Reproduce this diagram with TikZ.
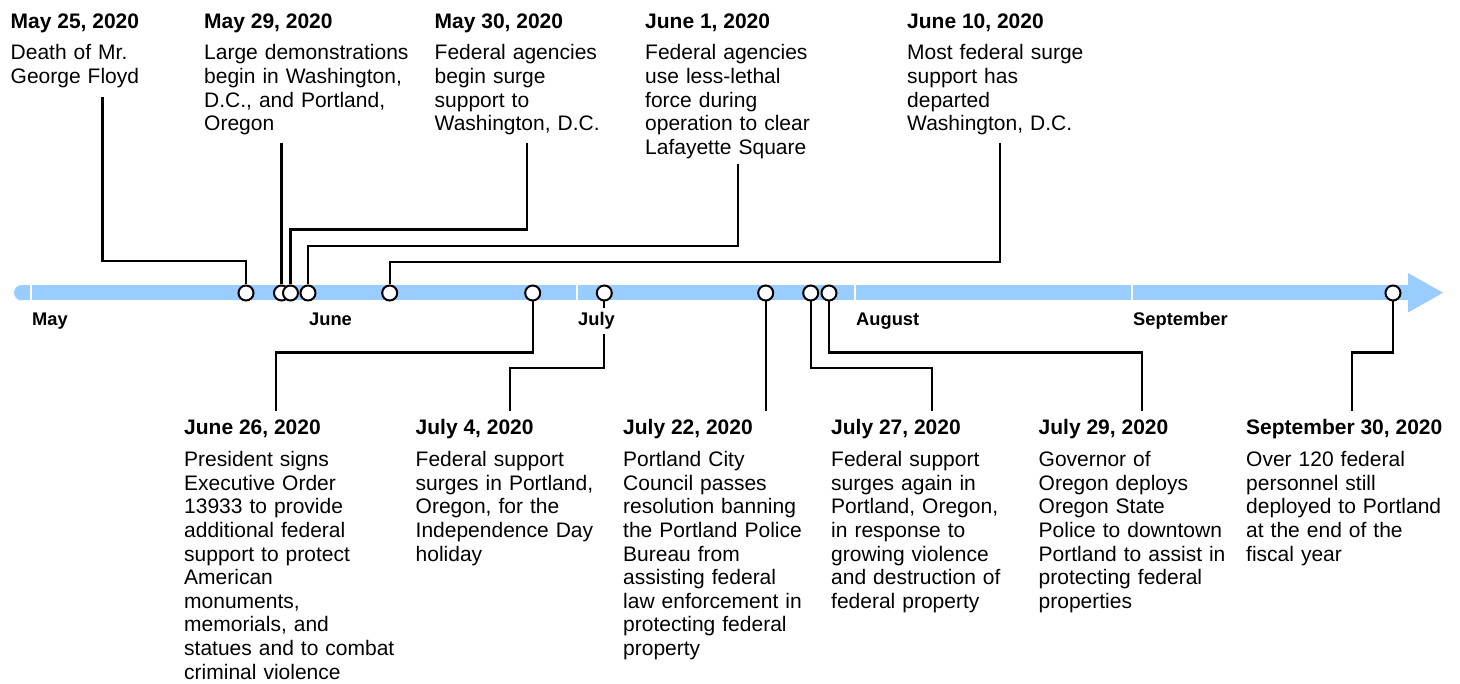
\documentclass[tikz,border=0pt]{standalone}
\usepackage{fontspec}
\setmainfont{Liberation Sans}
\definecolor{barblue}{RGB}{153,204,255}
\tikzset{
  conn/.style={line width=2.2pt},
  evt/.style={circle, draw, line width=2pt, fill=white, minimum size=15pt, inner sep=0pt},
  ttl/.style={anchor=base west, inner sep=0pt, font=\bfseries\fontsize{21}{24}\selectfont},
  body/.style={anchor=base west, inner sep=0pt, align=left, text width=260pt, font=\fontsize{21}{23.6}\selectfont},
  mon/.style={anchor=base west, inner sep=0pt, font=\bfseries\fontsize{18.3}{20}\selectfont},
  sep/.style={white, line width=2pt},
}
\begin{document}
\begin{tikzpicture}[x=1pt,y=-1pt]
\useasboundingbox (0,0) rectangle (1460,684);
% timeline bar
\fill[barblue] (21.75,285) rectangle (1408,300.5);
\fill[barblue] (21.75,292.75) circle (7.75pt);
\fill[barblue] (1408,273) -- (1443,292.75) -- (1408,312.5) -- cycle;
% month separators
\draw[sep] (31,284) -- (31,301.5);
\draw[sep] (305,284) -- (305,301.5);
\draw[sep] (577,284) -- (577,301.5);
\draw[sep] (855,284) -- (855,301.5);
\draw[sep] (1132,284) -- (1132,301.5);
% connector free ends
\coordinate (c1) at (102.5,97);
\coordinate (c2) at (281.5,143);
\coordinate (c3) at (527.3,143.3);
\coordinate (c4) at (737.7,164.3);
\coordinate (c5) at (1000,142.7);
\coordinate (c6) at (276,411);
\coordinate (c7) at (510,411);
\coordinate (c8) at (765.7,411);
\coordinate (c9) at (932,411);
\coordinate (c10) at (1141.7,411);
\coordinate (c11) at (1352,411);
% event markers
\node[evt] (e1) at (246,293) {};
\node[evt] (e2) at (281.5,293) {};
\node[evt] (e3) at (290.5,293) {};
\node[evt] (e4) at (308,293) {};
\node[evt] (e5) at (389.7,293) {};
\node[evt] (e6) at (532.7,293) {};
\node[evt] (e7) at (604.3,293) {};
\node[evt] (e8) at (765.7,293) {};
\node[evt] (e9) at (810.7,293) {};
\node[evt] (e10) at (829,293) {};
\node[evt] (e11) at (1393,293) {};
% connectors
\draw[conn] (c1) |- (e1 |- 0,261) -- (e1);
\draw[conn] (c2) -- (e2);
\draw[conn] (c3) |- (e3 |- 0,229.5) -- (e3);
\draw[conn] (c4) |- (e4 |- 0,246) -- (e4);
\draw[conn] (c5) |- (e5 |- 0,262) -- (e5);
\draw[conn] (e6) |- (c6 |- 0,352.5) -- (c6);
\draw[conn] (e7) |- (c7 |- 0,368.3) -- (c7);
\draw[conn] (e8) -- (c8);
\draw[conn] (e9) |- (c9 |- 0,368.3) -- (c9);
\draw[conn] (e10) |- (c10 |- 0,352.5) -- (c10);
\draw[conn] (e11) |- (c11 |- 0,352.5) -- (c11);
% month labels
\node[mon] (mmay) at (32,326) {May};
\node[mon] (mjune) at (309,326) {June};
\node[mon, fill=white, inner ysep=5pt, text height=13pt, text depth=3pt] (mjuly) at (578,326) {July};
\node[mon] (maug) at (856,326) {August};
\node[mon] (msep) at (1133,326) {September};
% top events
\node[ttl] (t1) at (10.5,28.5) {May 25, 2020};
\node[body] (b1) at (10.5,60) {Death of Mr.\\George Floyd};
\node[ttl] (t2) at (204,28.5) {May 29, 2020};
\node[body] (b2) at (204,60) {Large demonstrations\\begin in Washington,\\D.C., and Portland,\\Oregon};
\node[ttl] (t3) at (434.5,28.5) {May 30, 2020};
\node[body] (b3) at (434.5,60) {Federal agencies\\begin surge\\support to\\Washington, D.C.};
\node[ttl] (t4) at (645,28.5) {June 1, 2020};
\node[body] (b4) at (645,60) {Federal agencies\\use less-lethal\\force during\\operation to clear\\Lafayette Square};
\node[ttl] (t5) at (907,28.5) {June 10, 2020};
\node[body] (b5) at (907,60) {Most federal surge\\support has\\departed\\Washington, D.C.};
% bottom events
\node[ttl] (t6) at (184,435) {June 26, 2020};
\node[body] (b6) at (184,466.7) {President signs\\Executive Order\\13933 to provide\\additional federal\\support to protect\\American\\monuments,\\memorials, and\\statues and to combat\\criminal violence};
\node[ttl] (t7) at (415.5,435) {July 4, 2020};
\node[body] (b7) at (415.5,466.7) {Federal support\\surges in Portland,\\Oregon, for the\\Independence Day\\holiday};
\node[ttl] (t8) at (623,435) {July 22, 2020};
\node[body] (b8) at (623,466.7) {Portland City\\Council passes\\resolution banning\\the Portland Police\\Bureau from\\assisting federal\\law enforcement in\\protecting federal\\property};
\node[ttl] (t9) at (831,435) {July 27, 2020};
\node[body] (b9) at (831,466.7) {Federal support\\surges again in\\Portland, Oregon,\\in response to\\growing violence\\and destruction of\\federal property};
\node[ttl] (t10) at (1038.5,435) {July 29, 2020};
\node[body] (b10) at (1038.5,466.7) {Governor of\\Oregon deploys\\Oregon State\\Police to downtown\\Portland to assist in\\protecting federal\\properties};
\node[ttl] (t11) at (1246,435) {September 30, 2020};
\node[body] (b11) at (1246,466.7) {Over 120 federal\\personnel still\\deployed to Portland\\at the end of the\\fiscal year};
\end{tikzpicture}
\end{document}
